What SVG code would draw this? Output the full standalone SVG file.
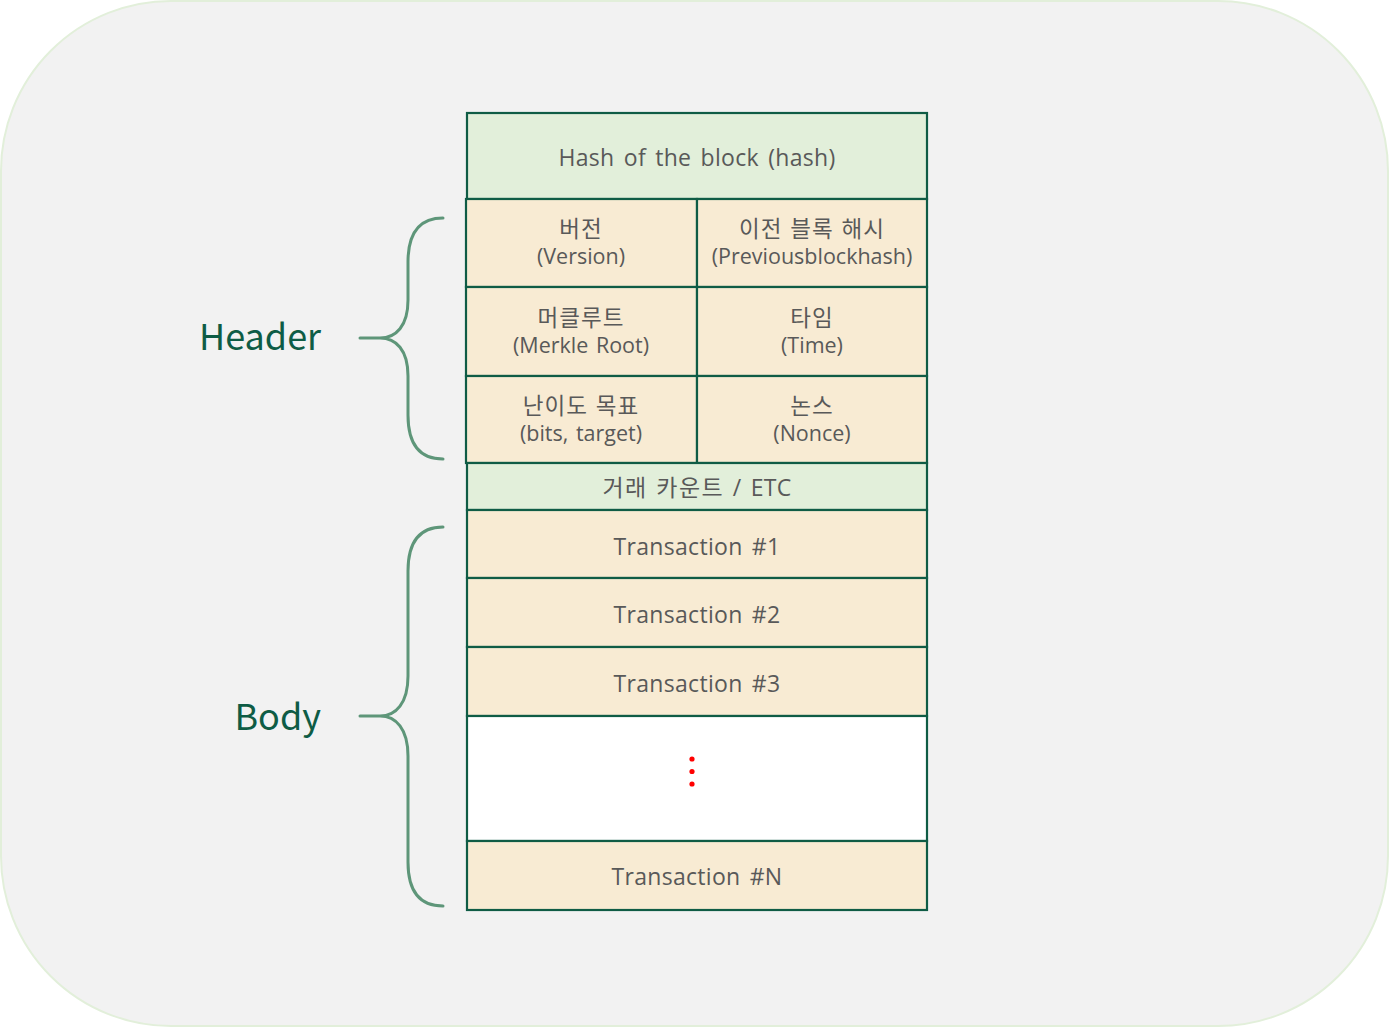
<svg xmlns="http://www.w3.org/2000/svg" width="1389" height="1027" viewBox="0 0 1389 1027">
<style>
.cell{stroke:#0F5C45;stroke-width:2.2}
.g{fill:#E2EFDA}
.y{fill:#F8EBD3}
.t{font-family:"Open Sans","Noto Sans CJK KR",sans-serif;font-size:21.5px;fill:#595959;text-anchor:middle;word-spacing:2px}
.b{font-size:23px;letter-spacing:0.3px;word-spacing:3px}
.k{font-size:22.5px;letter-spacing:1px;word-spacing:1px}
.lbl{font-family:"Noto Sans CJK KR","Noto Sans",sans-serif;font-size:36px;fill:#0E5C45}
.brace{fill:none;stroke:#5E9679;stroke-width:3;stroke-linecap:round}
</style>
<rect x="1" y="1" width="1387" height="1025" rx="170" ry="170" fill="#F2F2F2" stroke="#E2EFDA" stroke-width="2"/>
<g id="hash"><rect class="cell g" x="467" y="113" width="460" height="86"/><text class="t b" x="697" y="166">Hash of the block (hash)</text></g>
<g id="version"><rect class="cell y" x="466" y="199" width="231" height="88"/><text class="t k" x="581" y="237">버전</text><text class="t" x="581" y="264">(Version)</text></g>
<g id="prevhash"><rect class="cell y" x="697" y="199" width="230" height="88"/><text class="t k" x="812" y="237">이전 블록 해시</text><text class="t" x="812" y="264">(Previousblockhash)</text></g>
<g id="merkle"><rect class="cell y" x="466" y="287" width="231" height="89"/><text class="t k" x="581" y="326">머클루트</text><text class="t" x="581" y="353">(Merkle Root)</text></g>
<g id="time"><rect class="cell y" x="697" y="287" width="230" height="89"/><text class="t k" x="812" y="326">타임</text><text class="t" x="812" y="353">(Time)</text></g>
<g id="bits"><rect class="cell y" x="466" y="376" width="231" height="87"/><text class="t k" x="581" y="414">난이도 목표</text><text class="t" x="581" y="441">(bits, target)</text></g>
<g id="nonce"><rect class="cell y" x="697" y="376" width="230" height="87"/><text class="t k" x="812" y="414">논스</text><text class="t" x="812" y="441">(Nonce)</text></g>
<g id="etc"><rect class="cell g" x="467" y="463" width="460" height="47"/><text class="t b" x="697" y="496"><tspan style="letter-spacing:1.5px;word-spacing:1px">거래 카운트 </tspan>/ ETC</text></g>
<g id="tx1"><rect class="cell y" x="467" y="510" width="460" height="68"/><text class="t b" x="697" y="555">Transaction #1</text></g>
<g id="tx2"><rect class="cell y" x="467" y="578" width="460" height="69"/><text class="t b" x="697" y="623">Transaction #2</text></g>
<g id="tx3"><rect class="cell y" x="467" y="647" width="460" height="69"/><text class="t b" x="697" y="692">Transaction #3</text></g>
<g id="ellipsis"><rect class="cell" fill="#FFFFFF" x="467" y="716" width="460" height="125"/><circle cx="692" cy="759" r="2.6" fill="#FF0000"/><circle cx="692" cy="771.5" r="2.6" fill="#FF0000"/><circle cx="692" cy="784" r="2.6" fill="#FF0000"/></g>
<g id="txN"><rect class="cell y" x="467" y="841" width="460" height="69"/><text class="t b" x="697" y="885">Transaction #N</text></g>
<g id="header-label"><text class="lbl" x="199" y="350">Header</text></g>
<g id="body-label"><text class="lbl" x="321" y="730" text-anchor="end">Body</text></g>
<g id="connectors">
<path class="brace" d="M443,218 C420,218 408,232 408,262 L408,300 C408,326 396,338 380,338 L360,338 M380,338 C396,338 408,350 408,376 L408,415 C408,445 420,459 443,459"/>
<path class="brace" d="M443,527 C420,527 408,541 408,571 L408,676 C408,703 396,716 380,716 L360,716 M380,716 C396,716 408,729 408,756 L408,862 C408,892 420,906 443,906"/>
</g>
</svg>
